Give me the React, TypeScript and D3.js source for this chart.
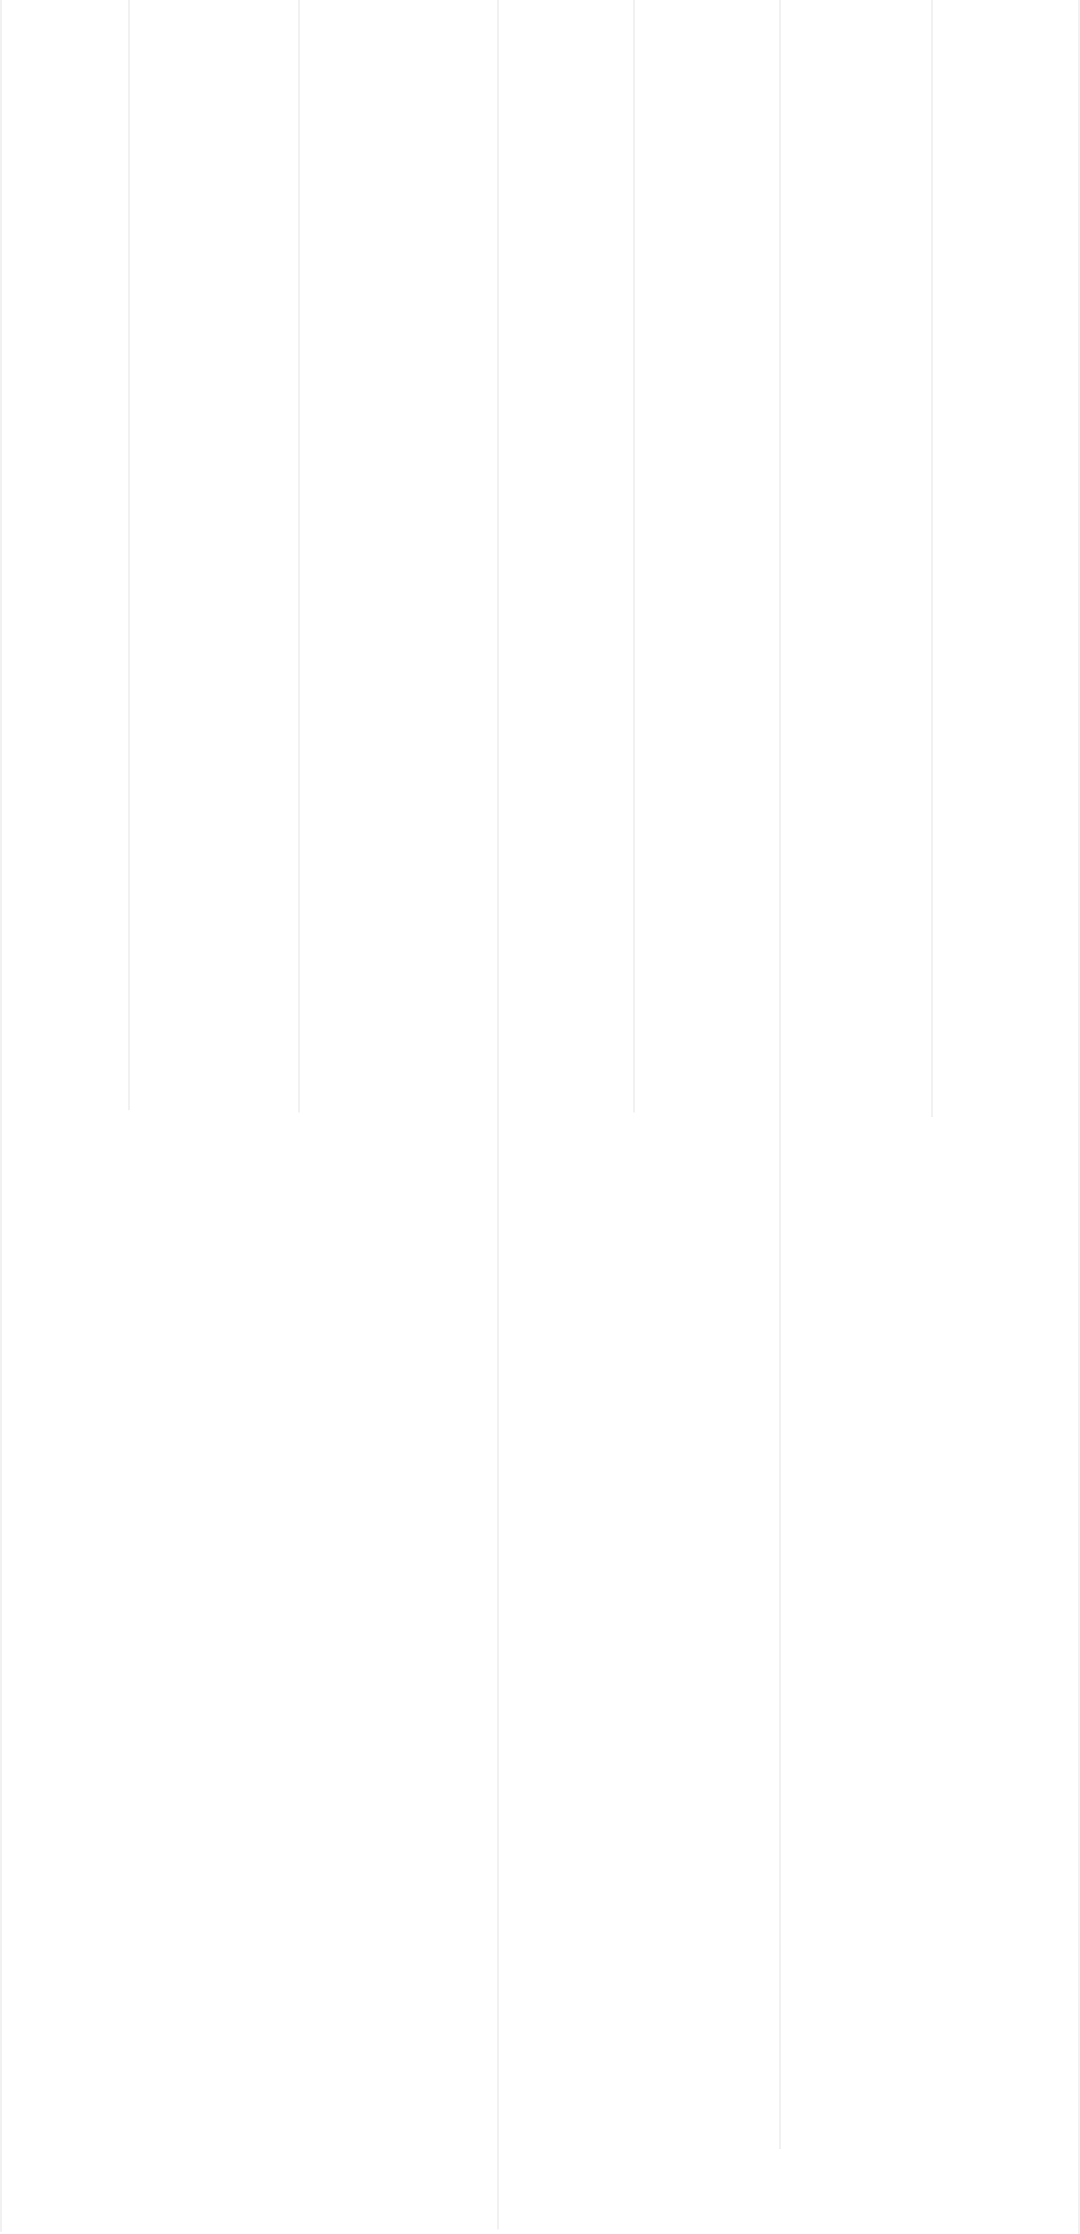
import React from "react";
import * as d3 from "d3";

// Column widths (data units) between successive separators
const columns = ["c1", "c2", "c3", "c4", "c5", "c6", "c7"];
const columnWidths = [128, 170, 199, 136, 146, 152, 147];
// Depth of each separator line, as % of the chart height (8 separators)
const separatorDepths = [99.9, 49.7, 49.8, 99.8, 49.8, 96.2, 50.0, 100];

const W = 1080;
const H = 2234;

export default function App() {
  const total = d3.sum(columnWidths);
  const x = d3.scaleLinear().domain([0, total]).range([1, 1079]);
  const y = d3.scaleLinear().domain([0, 100]).range([0, H]);
  const cum = [0, ...d3.cumsum(columnWidths)];

  return (
    <div style={{ position: "absolute", left: 0, top: 0, width: W, height: H, background: "#ffffff" }}>
      <svg width={W} height={H} style={{ display: "block" }}>
        <rect x={0} y={0} width={W} height={H} fill="#ffffff" />
        {cum.map((v, i) => (
          <line
            key={i}
            x1={x(v)}
            x2={x(v)}
            y1={0}
            y2={y(separatorDepths[i])}
            stroke="#ececec"
            strokeWidth={1.5}
          />
        ))}
        <title>{columns.join(",")}</title>
      </svg>
    </div>
  );
}
